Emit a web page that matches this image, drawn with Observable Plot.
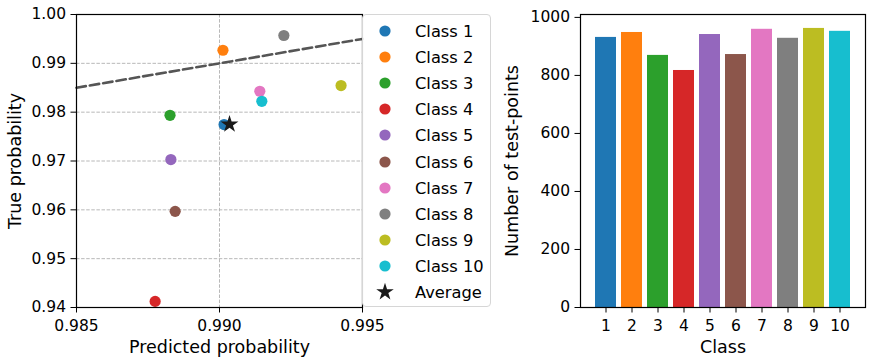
<!DOCTYPE html>
<html><head><meta charset="utf-8">
<script src="https://cdn.jsdelivr.net/npm/d3@7"></script>
<script src="https://cdn.jsdelivr.net/npm/@observablehq/plot@0.6"></script>
<style>
body{margin:0;background:#fff;}
#wrap{position:relative;width:872px;height:364px;font-family:"DejaVu Sans",sans-serif;overflow:hidden;}
#left{position:absolute;left:0;top:0;}
#right{position:absolute;left:490px;top:0;}
#legend{position:absolute;left:362px;top:14px;width:129px;height:293px;box-sizing:border-box;border:1px solid #d6d6d6;border-radius:4px;background:rgba(255,255,255,0.85);padding-top:3px;}
.row{position:relative;height:26.1px;font-size:16.3px;color:#000;}
.row .mk{position:absolute;left:11px;top:50%;transform:translateY(-50%);}
.row .tx{position:absolute;left:52px;top:50%;transform:translateY(-50%);white-space:nowrap;}
</style></head><body>
<div id="wrap"><div id="left"></div><div id="legend"></div><div id="right"></div></div>
<script>
// ---- data ----
const classes = ["Class 1","Class 2","Class 3","Class 4","Class 5","Class 6","Class 7","Class 8","Class 9","Class 10"];
const classTicks = ["1","2","3","4","5","6","7","8","9","10"];
const predicted = [0.99016, 0.99012, 0.98827, 0.98775, 0.98830, 0.98845, 0.99141, 0.99225, 0.99425, 0.99148];
const trueProb  = [0.97746, 0.99268, 0.97936, 0.94125, 0.97029, 0.95969, 0.98428, 0.99570, 0.98545, 0.98223];
const avgPredicted = 0.99035;
const avgTrue = 0.97752;
const counts = [931, 948, 869, 817, 941, 872, 959, 928, 962, 952];
const calibLine = [0.985, 0.995];
const xTicksLeft = [0.985, 0.990, 0.995];
const yTicksLeft = [0.94, 0.95, 0.96, 0.97, 0.98, 0.99, 1.00];
const yTicksRight = [0, 200, 400, 600, 800, 1000];
const palette = ["#1f77b4","#ff7f0e","#2ca02c","#d62728","#9467bd","#8c564b","#e377c2","#7f7f7f","#bcbd22","#17becf"];

const pts = classes.map((c,i)=>({cls:c, p:predicted[i], t:trueProb[i]}));
const bars = classTicks.map((c,i)=>({cls:c, n:counts[i], col:palette[i]}));
const diag = calibLine.map(v=>({x:v, y:v}));

const style = {fontFamily:"DejaVu Sans", fontSize:"15.5px", color:"#000", background:"transparent", overflow:"visible"};

const left = Plot.plot({
  width: 500, height: 364,
  marginLeft: 76, marginRight: 138, marginTop: 14, marginBottom: 57,
  style,
  x: {domain:[0.985, 0.995]},
  y: {domain:[0.94, 1.00]},
  color: {domain: classes, range: palette},
  marks: [
    Plot.gridX(xTicksLeft, {stroke:"#b0b0b0", strokeOpacity:1, strokeWidth:0.9, strokeDasharray:"3.5,1.6"}),
    Plot.gridY(yTicksLeft, {stroke:"#b0b0b0", strokeOpacity:1, strokeWidth:0.9, strokeDasharray:"3.5,1.6"}),
    Plot.line(diag, {x:"x", y:"y", stroke:"#555555", strokeWidth:2.6, strokeDasharray:"9.5,4"}),
    Plot.dot(pts, {x:"p", y:"t", fill:"cls", r:5.6}),
    Plot.dot([{p:avgPredicted, t:avgTrue}], {x:"p", y:"t", symbol:"star", fill:"#1a1a1a", r:5.6}),
    Plot.frame({stroke:"#000", strokeWidth:1.2}),
    Plot.axisX(xTicksLeft, {tickFormat:d3.format(".3f"), tickSize:5.5, tickPadding:6.5, label:null, fontSize:15.5}),
    Plot.axisY(yTicksLeft, {tickFormat:d3.format(".2f"), tickSize:5.5, tickPadding:5, label:null, fontSize:15.5}),
    Plot.text(["Predicted probability"], {frameAnchor:"bottom", dy:40, lineAnchor:"middle", textAnchor:"middle", fontSize:17.5}),
    Plot.text(["True probability"], {frameAnchor:"left", dx:-61, rotate:-90, lineAnchor:"middle", textAnchor:"middle", fontSize:17.5})
  ]
});
document.getElementById("left").appendChild(left);

const right = Plot.plot({
  width: 382, height: 364,
  marginLeft: 90, marginRight: 7, marginTop: 14, marginBottom: 57,
  style,
  x: {domain: classTicks, paddingInner:0.2, paddingOuter:0.465},
  y: {domain:[0, 1010]},
  marks: [
    Plot.barY(bars, {x:"cls", y:"n", fill:"col"}),
    Plot.frame({stroke:"#000", strokeWidth:1.2}),
    Plot.axisX(classTicks, {tickSize:5.5, tickPadding:6.5, label:null, fontSize:15.5}),
    Plot.axisY(yTicksRight, {tickFormat:d3.format("d"), tickSize:5.5, tickPadding:5, label:null, fontSize:15.5}),
    Plot.text(["Class"], {frameAnchor:"bottom", dy:40, lineAnchor:"middle", textAnchor:"middle", fontSize:17.5}),
    Plot.text(["Number of test-points"], {frameAnchor:"left", dx:-68, rotate:-90, lineAnchor:"middle", textAnchor:"middle", fontSize:17.5})
  ]
});
document.getElementById("right").appendChild(right);

// legend
const leg = document.getElementById("legend");
const starPath = d3.symbol(d3.symbolStar, 95)();
classes.forEach((c,i)=>{
  const row = document.createElement("div"); row.className="row";
  row.innerHTML = `<svg class="mk" width="22" height="22" viewBox="-11 -11 22 22"><circle r="5.6" fill="${palette[i]}"/></svg><span class="tx">${c}</span>`;
  leg.appendChild(row);
});
const rowA = document.createElement("div"); rowA.className="row";
rowA.innerHTML = `<svg class="mk" width="22" height="22" viewBox="-11 -11 22 22"><path d="${starPath}" fill="#1a1a1a"/></svg><span class="tx">Average</span>`;
leg.appendChild(rowA);
</script>
</body></html>
